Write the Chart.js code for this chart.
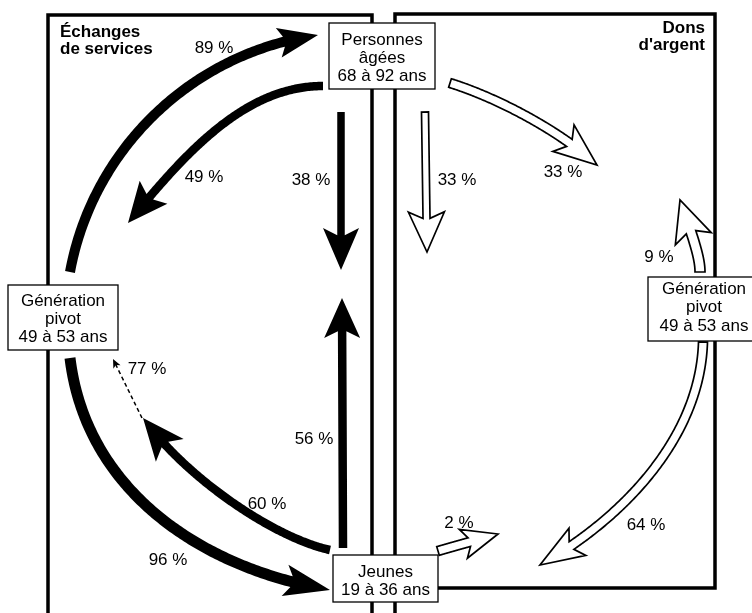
<!DOCTYPE html>
<html>
<head>
<meta charset="utf-8">
<script src="https://cdn.jsdelivr.net/npm/chart.js@4/dist/chart.umd.min.js"></script>
<style>
  html, body { margin: 0; padding: 0; background: #fff; }
  #wrap { width: 752px; height: 613px; }
</style>
</head>
<body>
<div id="wrap"><canvas id="flowChart" width="752" height="613"></canvas></div>
<script>
// ---- data ----
const groupNames = [
    ['Personnes', 'âgées', '68 à 92 ans'],
    ['Génération', 'pivot', '49 à 53 ans'],
    ['Jeunes', '19 à 36 ans'],
    ['Génération', 'pivot', '49 à 53 ans']
];
const panelTitles = [['Échanges', 'de services'], ['Dons', "d'argent"]];
const servicePct = [89, 49, 38, 56, 60, 77, 96];   // échanges de services (flèches noires)
const moneyPct = [33, 33, 9, 64, 2];               // dons d'argent (flèches blanches)

// ---- layout, in chart units (x 0-752, y 0-613 top down) ----
const panelLines = [
    [[48, 613], [48, 15], [372, 15], [372, 613]],
    [[395, 613], [395, 14], [715, 14], [715, 588], [395, 588]]
];
const boxes = [[329, 23, 435, 89], [8, 285, 118, 350], [333, 555, 438, 602], [648, 277, 760, 341]];
const boxLines = [[45, 63, 81], [306, 324, 342], [577, 595], [294, 312, 331]];

const servicePaths = [
    [[70, 272], [93, 147], [194, 52], [318, 35]],
    [[323, 86], [245, 86], [185, 153], [128, 223]],
    [[341, 112], [341, 270]],
    [[343, 548], [342, 298]],
    [[330, 550], [275, 538], [187, 479], [143, 418]],
    [[142, 418], [113, 359]],
    [[70, 358], [86, 490], [200, 568], [330, 590]]
];
// shaft width, head length, head half width
const serviceShape = [[10, 40, 15], [8.5, 40, 18], [7.5, 42, 18], [8.5, 40, 18], [8.5, 42, 18], [1.5, 9, 4], [11, 46, 16]];
const serviceDashed = [false, false, false, false, false, true, false];
const serviceLabelPos = [[214, 53], [204, 182], [311, 185], [314, 444], [267, 509], [147, 374], [168, 565]];

const moneyPaths = [
    [[425, 112], [427, 252]],
    [[450, 83], [498, 98], [560, 131], [597, 165]],
    [[700, 272], [700, 258], [694, 240], [680, 200]],
    [[703, 342], [700, 440], [619, 521], [540, 565]],
    [[438, 551], [455, 546], [470, 542], [498, 534]]
];
const moneyShape = [[7, 40, 18], [9, 43, 17], [10, 41, 19], [9, 44, 16], [9, 36, 15]];
const moneyLabelPos = [[457, 185], [563, 177], [659, 262], [646, 530], [459, 528]];

const FONT = '"Liberation Sans", Arial, Helvetica, sans-serif';

function bez(c, t) {
    const u = 1 - t;
    const a = u * u * u, b = 3 * u * u * t, d = 3 * u * t * t, e = t * t * t;
    return [a * c[0][0] + b * c[1][0] + d * c[2][0] + e * c[3][0],
            a * c[0][1] + b * c[1][1] + d * c[2][1] + e * c[3][1]];
}

function drawArrow(ctx, pts, shape, hollow, dashed) {
    const [w, L, W] = shape;
    let c = pts;
    if (pts.length === 2) {
        const [p, q] = pts;
        c = [p, [p[0] + (q[0] - p[0]) / 3, p[1] + (q[1] - p[1]) / 3],
             [p[0] + 2 * (q[0] - p[0]) / 3, p[1] + 2 * (q[1] - p[1]) / 3], q];
    }
    const N = 150;
    const s = [];
    for (let i = 0; i <= N; i++) s.push(bez(c, i / N));
    const tip = s[N];
    const notchLen = dashed ? L * 0.7 : L * 0.82;
    let k = N;
    while (k > 0 && Math.hypot(s[k][0] - tip[0], s[k][1] - tip[1]) < notchLen) k--;
    const base = s[k];
    let dx = tip[0] - base[0], dy = tip[1] - base[1];
    const dl = Math.hypot(dx, dy) || 1;
    dx /= dl; dy /= dl;
    const nx = -dy, ny = dx;
    const back = [tip[0] - dx * L, tip[1] - dy * L];

    ctx.save();
    ctx.fillStyle = '#000';
    ctx.strokeStyle = '#000';
    if (dashed) {
        ctx.lineWidth = w;
        ctx.setLineDash([4, 3]);
        ctx.beginPath();
        ctx.moveTo(s[0][0], s[0][1]);
        for (let i = 1; i <= k; i++) ctx.lineTo(s[i][0], s[i][1]);
        ctx.stroke();
        ctx.setLineDash([]);
        ctx.beginPath();
        ctx.moveTo(tip[0], tip[1]);
        ctx.lineTo(back[0] + nx * W, back[1] + ny * W);
        ctx.lineTo(base[0], base[1]);
        ctx.lineTo(back[0] - nx * W, back[1] - ny * W);
        ctx.closePath();
        ctx.fill();
        ctx.restore();
        return;
    }
    const left = [], right = [];
    for (let i = 0; i <= k; i++) {
        let tx, ty;
        if (i === k) { tx = dx; ty = dy; } else {
            const a = s[Math.max(0, i - 1)], b = s[Math.min(N, i + 1)];
            tx = b[0] - a[0]; ty = b[1] - a[1];
            const tl = Math.hypot(tx, ty) || 1;
            tx /= tl; ty /= tl;
        }
        left.push([s[i][0] - ty * w / 2, s[i][1] + tx * w / 2]);
        right.push([s[i][0] + ty * w / 2, s[i][1] - tx * w / 2]);
    }
    ctx.beginPath();
    ctx.moveTo(left[0][0], left[0][1]);
    left.forEach(p => ctx.lineTo(p[0], p[1]));
    ctx.lineTo(back[0] + nx * W, back[1] + ny * W);
    ctx.lineTo(tip[0], tip[1]);
    ctx.lineTo(back[0] - nx * W, back[1] - ny * W);
    for (let i = right.length - 1; i >= 0; i--) ctx.lineTo(right[i][0], right[i][1]);
    ctx.closePath();
    if (hollow) {
        ctx.fillStyle = '#fff';
        ctx.fill();
        ctx.lineWidth = 1.7;
        ctx.lineJoin = 'miter';
        ctx.stroke();
    } else {
        ctx.fill();
    }
    ctx.restore();
}

const diagramPlugin = {
    id: 'diagram',
    afterDatasetsDraw(chart) {
        const ctx = chart.ctx;
        const sx = chart.scales.x, sy = chart.scales.y;
        const P = p => [sx.getPixelForValue(p[0]), sy.getPixelForValue(p[1])];

        // panel frames
        ctx.save();
        ctx.strokeStyle = '#000';
        ctx.lineWidth = 3.5;
        ctx.lineJoin = 'miter';
        panelLines.forEach(line => {
            ctx.beginPath();
            line.forEach((pt, i) => {
                const [x, y] = P(pt);
                if (i === 0) ctx.moveTo(x, y); else ctx.lineTo(x, y);
            });
            ctx.stroke();
        });
        ctx.restore();

        // group boxes
        ctx.save();
        boxes.forEach(b => {
            const [x0, y0] = P([b[0], b[1]]);
            const [x1, y1] = P([b[2], b[3]]);
            ctx.fillStyle = '#fff';
            ctx.fillRect(x0, y0, x1 - x0, y1 - y0);
            ctx.strokeStyle = '#000';
            ctx.lineWidth = 1.3;
            ctx.strokeRect(x0, y0, x1 - x0, y1 - y0);
        });
        ctx.restore();

        // arrows
        servicePaths.forEach((path, i) => drawArrow(ctx, path.map(P), serviceShape[i], false, serviceDashed[i]));
        moneyPaths.forEach((path, i) => drawArrow(ctx, path.map(P), moneyShape[i], true, false));

        // texts
        ctx.save();
        ctx.fillStyle = '#000';
        ctx.textBaseline = 'alphabetic';
        ctx.font = 'bold 17px ' + FONT;
        ctx.textAlign = 'left';
        panelTitles[0].forEach((t, i) => {
            const [x, y] = P([60, 37 + i * 17]);
            ctx.fillText(t, x, y);
        });
        ctx.textAlign = 'right';
        panelTitles[1].forEach((t, i) => {
            const [x, y] = P([705, 33 + i * 17]);
            ctx.fillText(t, x, y);
        });

        ctx.font = '17px ' + FONT;
        ctx.textAlign = 'center';
        groupNames.forEach((lines, g) => {
            const b = boxes[g];
            const cx = g === 3 ? 704 : (b[0] + b[2]) / 2;
            lines.forEach((t, i) => {
                const [x, y] = P([cx, boxLines[g][i]]);
                ctx.fillText(t, x, y);
            });
        });

        ctx.font = '17px ' + FONT;
        servicePct.forEach((v, i) => {
            const [x, y] = P(serviceLabelPos[i]);
            ctx.fillText(v + ' %', x, y);
        });
        moneyPct.forEach((v, i) => {
            const [x, y] = P(moneyLabelPos[i]);
            ctx.fillText(v + ' %', x, y);
        });
        ctx.restore();
    }
};

const labelPoints = serviceLabelPos.concat(moneyLabelPos).map(p => ({ x: p[0], y: p[1] }));

const ctx = document.getElementById('flowChart').getContext('2d');
new Chart(ctx, {
    type: 'scatter',
    data: {
        datasets: [{
            label: 'flux',
            data: labelPoints,
            pointRadius: 0,
            pointHoverRadius: 0
        }]
    },
    options: {
        responsive: false,
        animation: false,
        devicePixelRatio: 1,
        layout: { padding: 0 },
        scales: {
            x: { type: 'linear', min: 0, max: 752, display: false },
            y: { type: 'linear', min: 0, max: 613, reverse: true, display: false }
        },
        plugins: {
            legend: { display: false },
            tooltip: { enabled: false }
        }
    },
    plugins: [diagramPlugin]
});
</script>
</body>
</html>
